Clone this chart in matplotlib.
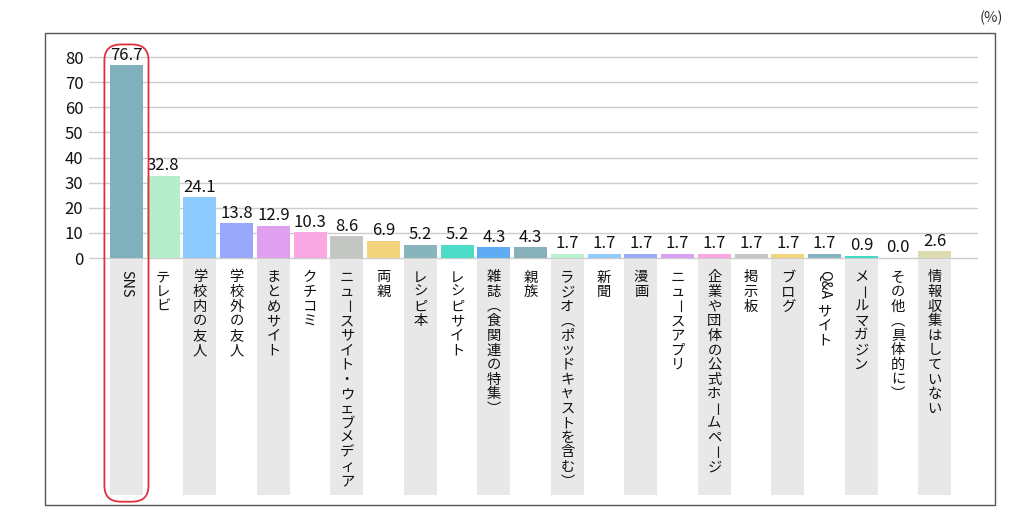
import numpy as np
import matplotlib
matplotlib.use("Agg")
import matplotlib.pyplot as plt
from matplotlib.patches import FancyBboxPatch, Rectangle
from matplotlib.transforms import offset_copy

plt.rcParams['font.family'] = ['Noto Sans CJK JP', 'DejaVu Sans']

categories = ['SNS', 'テレビ', '学校内の友人', '学校外の友人', 'まとめサイト', 'クチコミ',
              'ニュースサイト・ウェブメディア', '両親', 'レシピ本', 'レシピサイト',
              '雑誌（食関連の特集）', '親族', 'ラジオ（ポッドキャストを含む）', '新聞', '漫画',
              'ニュースアプリ', '企業や団体の公式ホームページ', '掲示板', 'ブログ', 'Q&A サイト',
              'メールマガジン', 'その他（具体的に）', '情報収集はしていない']
values = [76.7, 32.8, 24.1, 13.8, 12.9, 10.3, 8.6, 6.9, 5.2, 5.2, 4.3, 4.3,
          1.7, 1.7, 1.7, 1.7, 1.7, 1.7, 1.7, 1.7, 0.9, 0.0, 2.6]
colors = ['#7fb0bc', '#b4eecb', '#8ccaff', '#9aa8fc', '#e0a0f0', '#faa8e4',
          '#c4c6c4', '#f2d47c', '#88b4bc', '#4cdcc8', '#60acf4', '#88b0b8',
          '#b8f0d0', '#90ccff', '#9ca8f8', '#dca0f0', '#faa8e4', '#c4c6c4',
          '#f2d47c', '#84b4c0', '#40dcc8', '#ffffff', '#dcdcb0']
yticks = [0, 10, 20, 30, 40, 50, 60, 70, 80]

fig = plt.figure(figsize=(10.24, 5.16), dpi=100)
ax = fig.add_axes([0.0869, 0.0326, 0.868, 0.8861])

x = np.arange(len(categories))
ax.set_xlim(-1.02, 23.17)
ax.set_ylim(-96, 86)

# grey label stripes below the axis
ax.bar(x[::2], -94, bottom=-0.5, width=0.9, color='#e8e8e8', zorder=1)

ax.bar(x, values, width=0.9, color=colors, zorder=3)

for xi, v in zip(x, values):
    ax.text(xi, v + 0.6, f'{v:.1f}', ha='center', va='bottom', fontsize=12,
            color='#111111', zorder=4)

ax.set_yticks(yticks)
ax.set_yticklabels([str(t) for t in yticks], fontsize=12)
ax.tick_params(axis='y', length=0, pad=4, labelcolor='#111111')
ax.set_xticks([])
ax.yaxis.grid(True, color='#cccccc', linewidth=1, zorder=0)
ax.set_axisbelow(True)
for s in ax.spines.values():
    s.set_visible(False)

# vertical (tategaki) category labels
fs = 10.3
step = 10.5
vertical_forms = {'（': '\ufe35', '）': '\ufe36'}
for xi, lab in zip(x, categories):
    off = 14.0
    i = 0
    while i < len(lab):
        ch = lab[i]
        if ch.isascii() and ch != ' ':
            j = i
            while j < len(lab) and lab[j].isascii() and lab[j] != ' ':
                j += 1
            run = lab[i:j]
            tr = offset_copy(ax.transData, fig=fig, x=0, y=-(off - 0.5 * step), units='points')
            ax.text(xi, 0, run, rotation=-90, ha='center', va='top', fontsize=fs,
                    transform=tr, color='#111111', zorder=5)
            off += 0.62 * fs * len(run)
            i = j
            continue
        if ch == ' ':
            off += 0.5 * fs
            i += 1
            continue
        tr = offset_copy(ax.transData, fig=fig, x=0, y=-off, units='points')
        rot = -90 if ch == 'ー' else 0
        ax.text(xi, 0, vertical_forms.get(ch, ch), rotation=rot, ha='center', va='center',
                fontsize=fs, transform=tr, color='#111111', zorder=5)
        off += step
        i += 1

# outer frame
fig.patches.append(Rectangle((45 / 1024, 1 - 505 / 516), 950 / 1024, 472 / 516,
                             transform=fig.transFigure, fill=False,
                             edgecolor='#555555', linewidth=1))

# red highlight around the first category
hl = FancyBboxPatch((-0.6, -97), 1.2, 182, boxstyle='round,pad=0,rounding_size=0.45',
                    mutation_aspect=14, fill=False, edgecolor='#e03040',
                    linewidth=1.3, zorder=6, clip_on=False)
ax.add_patch(hl)

fig.text(0.968, 0.965, '(%)', ha='center', va='center', fontsize=10.5, color='#333333')

fig.savefig('out.png', dpi=100)
